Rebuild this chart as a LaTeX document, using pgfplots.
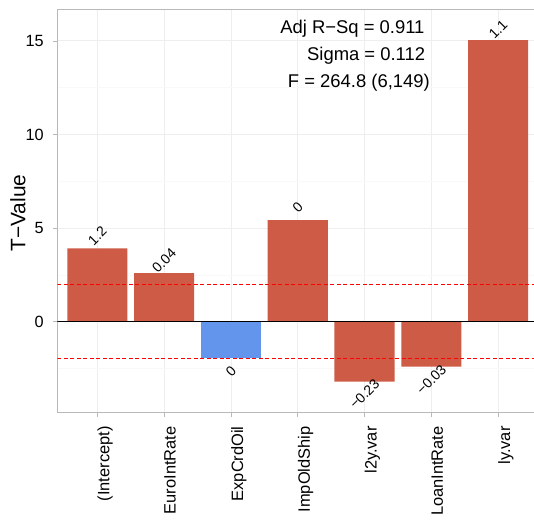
\documentclass[border=0pt]{standalone}
\usepackage{pgfplots}
\pgfplotsset{compat=1.18}
\usepackage{fontspec}
\setmainfont{Liberation Sans}
\definecolor{barred}{RGB}{205,91,69}
\definecolor{barblue}{RGB}{100,149,237}
\newcommand{\lbl}{\fontsize{14}{16}\selectfont}
\newcommand{\ann}{\fontsize{18.5}{22}\selectfont}
\begin{document}
\begin{tikzpicture}
\begin{axis}[
  scale only axis,
  width=480.9bp, height=403.7bp,
  xmin=0.4, xmax=7.6, ymin=-4.86, ymax=16.70,
  xtick={1,2,3,4,5,6,7},
  xticklabels={(Intercept),EuroIntRate,ExpCrdOil,ImpOldShip,l2y.var,LoanIntRate,ly.var},
  ytick={0,5,10,15},
  minor ytick={-2.5,2.5,7.5,12.5},
  tick pos=left,
  tick align=outside,
  major tick length=4.5bp,
  minor tick length=0pt,
  tick style={gray!55, line width=0.6bp},
  xmajorgrids, ymajorgrids, yminorgrids,
  major grid style={gray!13, line width=0.7bp},
  minor grid style={gray!5, line width=0.5bp},
  axis line style={gray!55, line width=0.7bp},
  /pgf/number format/assume math mode=true,
  yticklabel style={font=\fontsize{16.3}{19}\selectfont, xshift=-9bp, anchor=east, inner sep=0pt},
  xticklabel style={font=\fontsize{16.5}{19}\selectfont, yshift=-9bp, rotate=90, anchor=north east, inner sep=0pt},
  ylabel={T−Value},
  every axis y label/.style={at={(axis description cs:-0.0817,0.4947)}, rotate=90, anchor=center, font=\fontsize{21}{25}\selectfont},
]
\addplot[ybar, bar width=0.9, bar shift=0pt, fill=barred, draw=none]
  coordinates {(1,3.92) (2,2.60) (4,5.43) (5,-3.20) (6,-2.40) (7,15.04)};
\addplot[ybar, bar width=0.9, bar shift=0pt, fill=barblue, draw=none]
  coordinates {(3,-1.96)};
\addplot[black, line width=0.6bp] coordinates {(0.4,0) (7.6,0)};
\addplot[red, dash pattern=on 4bp off 2.5bp, line width=0.7bp] coordinates {(0.4,1.98) (7.6,1.98)};
\addplot[red, dash pattern=on 4bp off 2.5bp, line width=0.7bp] coordinates {(0.4,-1.98) (7.6,-1.98)};

\node[rotate=45, font=\lbl] at ([yshift=12.5bp]axis cs:1,3.92) {1.2};
\node[rotate=45, font=\lbl] at ([yshift=12.5bp]axis cs:2,2.60) {0.04};
\node[rotate=45, font=\lbl] at ([yshift=-13bp]axis cs:3,-1.96) {0};
\node[rotate=45, font=\lbl] at ([yshift=12.5bp]axis cs:4,5.43) {0};
\node[rotate=45, font=\lbl] at ([yshift=-12.5bp]axis cs:5,-3.20) {−0.23};
\node[rotate=45, font=\lbl] at ([yshift=-13bp]axis cs:6,-2.40) {−0.03};
\node[rotate=45, font=\lbl] at ([yshift=10.5bp]axis cs:7,15.04) {1.1};

\node[anchor=base east, inner sep=0pt, font=\ann] at (axis cs:5.90,15.40) {Adj R−Sq = 0.911};
\node[anchor=base east, inner sep=0pt, font=\ann] at (axis cs:5.91,13.95) {Sigma = 0.112};
\node[anchor=base east, inner sep=0pt, font=\ann] at (axis cs:5.98,12.50) {F = 264.8 (6,149)};

\coordinate (SW) at (rel axis cs:0,0);
\coordinate (NE) at (rel axis cs:1,1);
\end{axis}
\pgfresetboundingbox
\path[use as bounding box] ([shift={(-57.3bp,-106.3bp)}]SW) rectangle ([shift={(-4.2bp,9bp)}]NE);
\end{tikzpicture}
\end{document}
